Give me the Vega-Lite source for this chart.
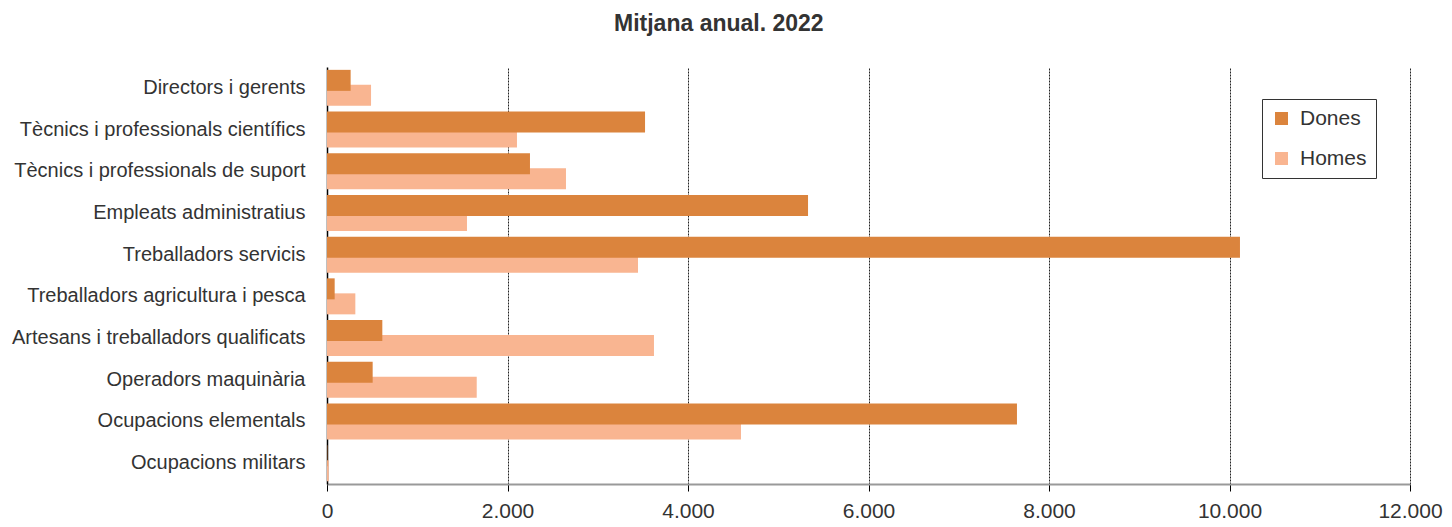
{
  "$schema": "https://vega.github.io/schema/vega-lite/v6.json",
  "width": 1083,
  "height": 417,
  "padding": {"left": 11, "right": 14, "top": 13, "bottom": 3},
  "background": "white",
  "title": {"text": "Mitjana anual. 2022", "font": "Liberation Sans", "fontSize": 23, "fontWeight": "bold", "color": "#333333", "anchor": "middle", "frame": "bounds", "offset": 31, "dx": -8},
  "config": {"view": {"stroke": null}, "font": "Liberation Sans"},
  "data": {"values": [
    {"categoria": "Directors i gerents", "sexe": "Dones", "valor": 262},
    {"categoria": "Directors i gerents", "sexe": "Homes", "valor": 488},
    {"categoria": "Tècnics i professionals científics", "sexe": "Dones", "valor": 3524},
    {"categoria": "Tècnics i professionals científics", "sexe": "Homes", "valor": 2105},
    {"categoria": "Tècnics i professionals de suport", "sexe": "Dones", "valor": 2249},
    {"categoria": "Tècnics i professionals de suport", "sexe": "Homes", "valor": 2648},
    {"categoria": "Empleats administratius", "sexe": "Dones", "valor": 5330},
    {"categoria": "Empleats administratius", "sexe": "Homes", "valor": 1551},
    {"categoria": "Treballadors servicis", "sexe": "Dones", "valor": 10116},
    {"categoria": "Treballadors servicis", "sexe": "Homes", "valor": 3446},
    {"categoria": "Treballadors agricultura i pesca", "sexe": "Dones", "valor": 85},
    {"categoria": "Treballadors agricultura i pesca", "sexe": "Homes", "valor": 314},
    {"categoria": "Artesans i treballadors qualificats\u00a0", "sexe": "Dones", "valor": 613},
    {"categoria": "Artesans i treballadors qualificats\u00a0", "sexe": "Homes", "valor": 3623},
    {"categoria": "Operadors maquinària", "sexe": "Dones", "valor": 506},
    {"categoria": "Operadors maquinària", "sexe": "Homes", "valor": 1659},
    {"categoria": "Ocupacions elementals", "sexe": "Dones", "valor": 7645},
    {"categoria": "Ocupacions elementals", "sexe": "Homes", "valor": 4587},
    {"categoria": "Ocupacions militars", "sexe": "Dones", "valor": 4},
    {"categoria": "Ocupacions militars", "sexe": "Homes", "valor": 19}
  ]},
  "encoding": {
    "y": {"field": "categoria", "type": "nominal", "sort": null, "title": null,
      "axis": {"labelFontSize": 20, "labelColor": "#333333", "labelPadding": 22, "ticks": false, "domainColor": "#000000", "domainWidth": 1.5, "grid": false, "labelLimit": 400}},
    "x": {"field": "valor", "type": "quantitative", "title": null,
      "scale": {"domain": [0, 12000], "nice": false},
      "axis": {"values": [0, 2000, 4000, 6000, 8000, 10000, 12000], "labelExpr": "replace(format(datum.value, ','), ',', '.')",
        "labelFont": "Liberation Sans", "labelFontSize": 21, "labelColor": "#333333", "labelPadding": 9, "tickColor": "#000000", "tickSize": 7, "domainColor": "#999999", "domainWidth": 2,
        "grid": true, "gridColor": "#222222", "gridDash": [2, 1], "gridWidth": 1, "labelFlush": false}},
    "color": {"field": "sexe", "type": "nominal", "title": null,
      "scale": {"domain": ["Dones", "Homes"], "range": ["#DB843D", "#F9B591"]},
      "legend": {"orient": "none", "legendX": 935, "legendY": 32, "symbolType": "square", "symbolSize": 170, "symbolStrokeWidth": 0,
        "labelFontSize": 21, "labelColor": "#333333", "rowPadding": 18, "padding": 9, "strokeColor": "#333333", "fillColor": "white", "labelOffset": 8, "offset": 0}}
  },
  "layer": [
    {"transform": [{"filter": "datum.sexe === 'Homes'"}], "mark": {"type": "bar", "height": 21, "yOffset": 7.5}},
    {"transform": [{"filter": "datum.sexe === 'Dones'"}], "mark": {"type": "bar", "height": 21, "yOffset": -7.5}}
  ]
}
